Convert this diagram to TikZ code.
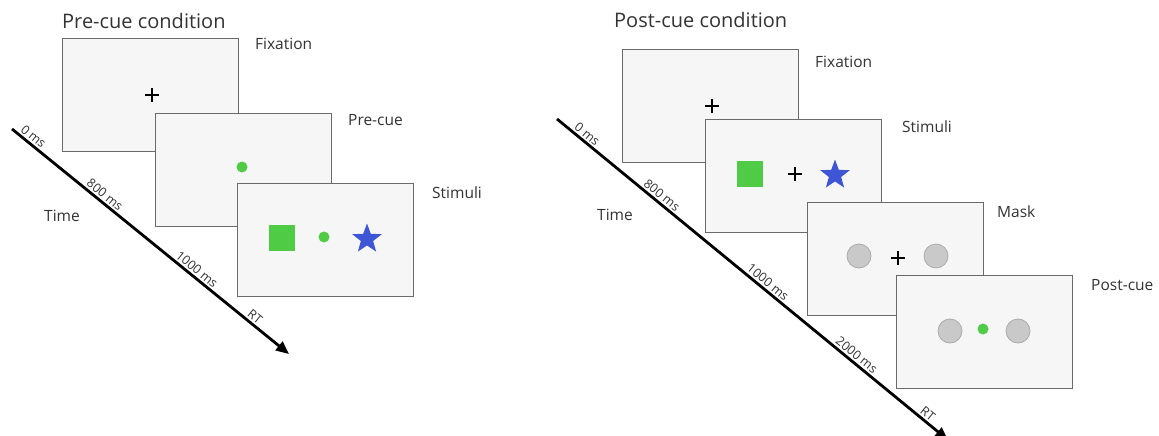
\documentclass[tikz,border=0pt]{standalone}
\usepackage{fontspec}
\setmainfont{Open Sans}
\usetikzlibrary{arrows.meta,shapes.geometric}
\definecolor{scrfill}{HTML}{F6F6F6}
\definecolor{scrdraw}{HTML}{6A6A6A}
\definecolor{cgreen}{HTML}{4FCB45}
\definecolor{cblue}{HTML}{3E55D6}
\definecolor{cgray}{HTML}{C9C9C9}
\definecolor{cgrayd}{HTML}{ABABAB}
\definecolor{txt}{HTML}{333333}
\begin{document}
\begin{tikzpicture}[x=1pt,y=-1pt,
  screen/.style={draw=scrdraw,fill=scrfill,line width=1.4pt,minimum width=176pt,minimum height=113pt,inner sep=0pt,anchor=north west},
  title/.style={font=\fontsize{20}{23}\selectfont,text=txt,anchor=west,inner sep=0pt},
  lab/.style={font=\fontsize{15.5}{18}\selectfont,text=txt,anchor=west,inner sep=0pt},
  tick/.style={font=\fontsize{12.5}{14}\selectfont,text=txt,sloped,above=3pt,inner sep=0pt},
  timearrow/.style={line width=2.8pt,-{Triangle[length=13pt,width=11pt]}},
  sq/.style={fill=cgreen,minimum size=26pt,inner sep=0pt},
  gdot/.style={circle,fill=cgreen,minimum size=11pt,inner sep=0pt},
  gcirc/.style={circle,fill=cgray,draw=cgrayd,line width=0.8pt,minimum size=24pt,inner sep=0pt},
  bstar/.style={star,star points=5,star point ratio=2.4,fill=cblue,minimum size=31pt,inner sep=0pt},
  plusline/.style={line width=1.6pt,black},
]
\useasboundingbox (0,0) rectangle (1159,436);
\fill[white] (0,0) rectangle (1159,436);
% ---------------- Pre-cue condition ----------------
\node[title] (t1) at (62,21) {Pre-cue condition};
\node[screen] (a1) at (62,38) {};
\node[lab] (la1) at (255,44) {Fixation};
\draw[plusline] (145,95) -- (159,95) (152,88) -- (152,102);
\node[screen] (a2) at (155,113) {};
\node[lab] (la2) at (348,120) {Pre-cue};
\node[gdot] (d2) at (242,167) {};
\node[screen] (a3) at (237,183) {};
\node[lab] (la3) at (432,193) {Stimuli};
\node[sq] (s3) at (281.5,237.5) {};
\node[gdot] (d3) at (324,237) {};
\node[bstar] (st3) at (367,239) {};
\coordinate (as) at (12,129);
\coordinate (ae) at (289,354);
\draw[timearrow] (as) -- (ae);
\path (as) -- (ae)
  node[tick,pos=0.06] (k1) {0 ms}
  node[tick,pos=0.318] (k2) {800 ms}
  node[tick,pos=0.65] (k3) {1000 ms}
  node[tick,pos=0.86] (k4) {RT};
\node[lab] (time1) at (44,216) {Time};
% ---------------- Post-cue condition ----------------
\node[title] (t2) at (614,20) {Post-cue condition};
\node[screen] (b1) at (622,49) {};
\node[lab] (lb1) at (815,62) {Fixation};
\draw[plusline] (705,106) -- (719,106) (712,99) -- (712,113);
\node[screen] (b2) at (705,119) {};
\node[lab] (lb2) at (902,127) {Stimuli};
\node[sq] (s4) at (750,174) {};
\draw[plusline] (788,174) -- (802,174) (795,167) -- (795,181);
\node[bstar] (st4) at (835,175) {};
\node[screen] (b3) at (807,202) {};
\node[lab] (lb3) at (997,212) {Mask};
\node[gcirc] (c1) at (859,256) {};
\node[gcirc] (c2) at (936,256) {};
\draw[plusline] (891,258) -- (905,258) (898,251) -- (898,265);
\node[screen] (b4) at (896,275) {};
\node[lab] (lb4) at (1091,285) {Post-cue};
\node[gcirc] (c3) at (950,331) {};
\node[gcirc] (c4) at (1018,331) {};
\node[gdot] (d4) at (983,329) {};
\coordinate (bs) at (557,119);
\coordinate (be) at (948,440);
\draw[timearrow] (bs) -- (be);
\path (bs) -- (be)
  node[tick,pos=0.065] (m1) {0 ms}
  node[tick,pos=0.256] (m2) {800 ms}
  node[tick,pos=0.527] (m3) {1000 ms}
  node[tick,pos=0.754] (m4) {2000 ms}
  node[tick,pos=0.936] (m5) {RT};
\node[lab] (time2) at (597,215) {Time};
\end{tikzpicture}
\end{document}
